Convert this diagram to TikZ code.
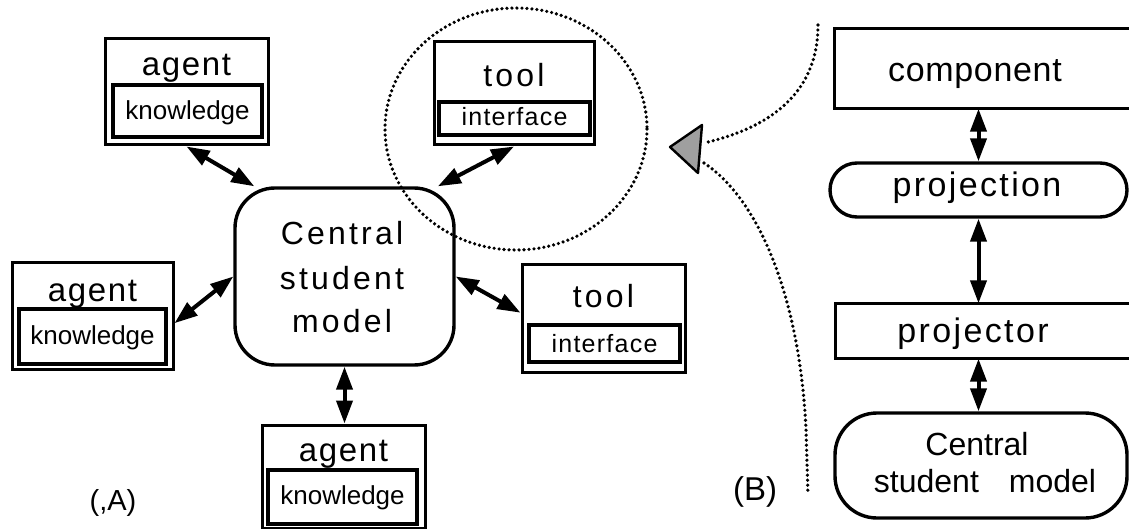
\documentclass[tikz,border=0pt]{standalone}
\usepackage{fontspec}
\setmainfont{Liberation Sans}
\usetikzlibrary{arrows.meta}
\newcommand{\fsz}[2]{\fontsize{#1}{#1}\selectfont\addfontfeature{LetterSpace=#2}}
\begin{document}
\begin{tikzpicture}[x=1pt,y=-1pt,
  outerbox/.style={draw, line width=3pt, inner sep=0pt},
  innerbox/.style={draw, line width=4pt, inner sep=0pt},
  rbox/.style={line width=3.4pt, inner sep=0pt},
  lbl/.style={anchor=base, inner sep=0pt},
  dbl/.style={{Triangle[length=23pt,width=16pt]}-{Triangle[length=23pt,width=16pt]}, line width=4pt},
  dots/.style={line width=3.6pt, line cap=round, dash pattern=on 0pt off 5pt}
]
\clip (0,0) rectangle (1129,529);

% ---------- (A) ----------
% central model
\node[draw, line width=3.4pt, rounded corners=40pt, minimum width=219pt, minimum height=177pt, inner sep=0pt] (csm) at (344.5,276.5) {};
\node[lbl] (csmA) at (342,245) {\fsz{32pt}{10}Central};
\node[lbl] (csmB) at (342,289) {\fsz{32pt}{10}student};
\node[lbl] (csmC) at (342,332) {\fsz{32pt}{10}model};

% agent 1
\node[outerbox, minimum width=163pt, minimum height=106pt] (ag1) at (186.5,92) {};
\node[innerbox, minimum width=149pt, minimum height=52pt] (kn1) at (187.5,111) {};
\node[lbl] (ag1t) at (186.5,76) {\fsz{33pt}{5}agent};
\node[lbl] (kn1t) at (187.5,120) {\fsz{26pt}{0}knowledge};

% agent 2
\node[outerbox, minimum width=161pt, minimum height=106pt] (ag2) at (92.5,316) {};
\node[innerbox, minimum width=147pt, minimum height=55pt] (kn2) at (92.5,336.5) {};
\node[lbl] (ag2t) at (92.5,301) {\fsz{33pt}{5}agent};
\node[lbl] (kn2t) at (92.5,344) {\fsz{26pt}{0}knowledge};

% agent 3
\node[outerbox, minimum width=163pt, minimum height=103pt] (ag3) at (343.5,476.5) {};
\node[innerbox, minimum width=149pt, minimum height=54pt] (kn3) at (342.5,497) {};
\node[lbl] (ag3t) at (343.5,461) {\fsz{33pt}{5}agent};
\node[lbl] (kn3t) at (342.5,504) {\fsz{26pt}{0}knowledge};

% tool 1
\node[outerbox, minimum width=160pt, minimum height=103pt] (tl1) at (514,93.5) {};
\node[innerbox, minimum width=151pt, minimum height=33pt] (if1) at (514.5,118.5) {};
\node[lbl] (tl1t) at (514,87) {\fsz{32pt}{10}tool};
\node[lbl] (if1t) at (514.5,126) {\fsz{25pt}{5}interface};

% tool 2
\node[outerbox, minimum width=163pt, minimum height=107pt] (tl2) at (603.5,318.5) {};
\node[innerbox, minimum width=151pt, minimum height=37pt] (if2) at (604.5,343.5) {};
\node[lbl] (tl2t) at (603.5,307) {\fsz{32pt}{10}tool};
\node[lbl] (if2t) at (604.5,352) {\fsz{25pt}{5}interface};

% connectors
\draw[dbl] (ag1.south) -- (csm.135);
\draw[dbl] (tl1.south) -- (csm.44);
\draw[dbl] (ag2.-5) -- (csm.west);
\draw[dbl] (csm.east) -- (tl2.176);
\draw[dbl] (csm.south) -- (csm.south |- ag3.north);

% dotted circle
\draw[dots] (516,129) ellipse [x radius=131, y radius=121];

\node[lbl] (labA) at (113,510) {\fsz{29pt}{0}(,A)};

% ---------- (B) ----------
\node[rbox, minimum width=304pt, minimum height=77pt] (comp) at (988,68.5) {};
\draw[line width=3.4pt, line join=miter] (comp.north east) -- (comp.north west) -- (comp.south west) -- (comp.south east);
\node[draw, line width=3.4pt, rounded corners=27pt, minimum width=297pt, minimum height=54pt, inner sep=0pt] (proj) at (978.5,190) {};
\node[rbox, minimum width=303pt, minimum height=52pt] (projr) at (988.5,331) {};
\draw[line width=3.4pt, line join=miter] (projr.north east) -- (projr.north west) -- (projr.south west) -- (projr.south east);
\node[draw, line width=3.4pt, rounded corners=42pt, minimum width=292pt, minimum height=105pt, inner sep=0pt] (csm2) at (981,465.5) {};

\node[lbl] (compt) at (975,82) {\fsz{34pt}{2}component};
\node[lbl] (projt) at (977,197) {\fsz{34pt}{7}projection};
\node[lbl] (projrt) at (973,342) {\fsz{34pt}{7}projector};
\node[lbl] (csm2a) at (977,455) {\fsz{32pt}{0}Central};
\node[lbl] (csm2b) at (985,492) {\fsz{32pt}{0}student\hspace{30pt}model};

\draw[dbl] (proj.north |- comp.south) -- (proj.north);
\draw[dbl] (proj.south) -- (proj.south |- projr.north);
\draw[dbl] (proj.south |- projr.south) -- (proj.south |- csm2.north);

% pointer triangle and dotted curves
\coordinate (tri1) at (702,125);
\coordinate (tri2) at (698,173);
\coordinate (tri3) at (670,147);
\draw[line width=2.4pt, fill=gray!75, line join=round] (tri1) -- (tri2) -- (tri3) -- cycle;
\coordinate (upS) at (818,25);
\coordinate (upE) at (704,143);
\coordinate (loS) at (704,163);
\coordinate (loE) at (808,495);
\draw[dots] (upS) .. controls (818,100) and (760,130) .. (upE);
\draw[dots] (loS) .. controls (760,200) and (800,300) .. (806,430) -- (loE);

\node[lbl] (labB) at (755,500) {\fsz{33pt}{0}(B)};
\end{tikzpicture}
\end{document}
